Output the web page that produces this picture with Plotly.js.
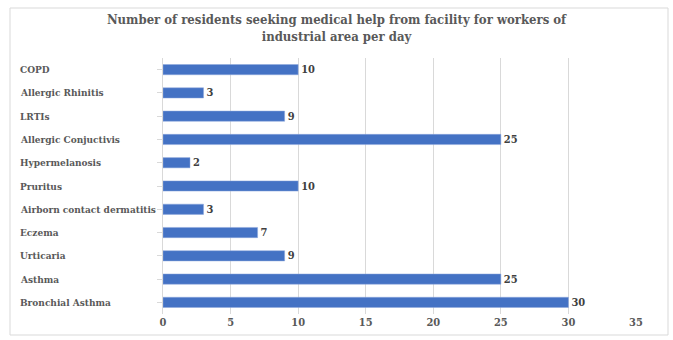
<!DOCTYPE html>
<html><head><meta charset="utf-8">
<script src="https://cdn.plot.ly/plotly-3.0.1.min.js"></script>
<style>html,body{margin:0;padding:0;background:#fff;}#chart{width:673px;height:340px;}</style>
</head><body><div id="chart"></div>
<script>
const categories = ["COPD","Allergic Rhinitis","LRTIs","Allergic Conjuctivis","Hypermelanosis","Pruritus","Airborn contact dermatitis","Eczema","Urticaria","Asthma","Bronchial Asthma"];
const values = [10,3,9,25,2,10,3,7,9,25,30];
const xTicks = [0,5,10,15,20,25,30,35];

const font = "DejaVu Serif Condensed, DejaVu Serif, serif";
const W = 673, H = 340, L = 163, R = 37, T = 58, B = 26;
const pw = W - L - R, ph = H - T - B;

const annotations = categories.map(c => ({
  text: "<b>" + c + "</b>", xref: "paper", yref: "y", x: (18 - L) / pw, y: c,
  xanchor: "left", yanchor: "middle", showarrow: false,
  font: {family: font, size: 10, color: "#595959"}
}));

Plotly.newPlot("chart", [{
  type: "bar", orientation: "h", x: values, y: categories,
  marker: {color: "#4472C4", line: {color: "#8fa9dc", width: 0.5}},
  text: values.map(v => "<b>" + v + "</b>"), textposition: "outside", constraintext: "none",
  textfont: {family: font, size: 11, color: "#404040"}, cliponaxis: false,
  hoverinfo: "none"
}], {
  width: W, height: H,
  margin: {l: L, r: R, t: T, b: B},
  paper_bgcolor: "#fff", plot_bgcolor: "#fff",
  bargap: 0.56,
  title: {text: "<b>Number of residents seeking medical help from facility for workers of<br>industrial area per day</b>",
    font: {family: font, size: 13, color: "#595959"}, x: 0.5, xanchor: "center", y: 0.93, yanchor: "top"},
  xaxis: {range: [0, 35], tickvals: xTicks, ticktext: xTicks.map(v => "<b>" + v + "</b>"),
    showgrid: true, gridcolor: "#d9d9d9", gridwidth: 1, zeroline: false, showline: false,
    tickfont: {family: font, size: 11, color: "#595959"}, ticks: "", fixedrange: true},
  yaxis: {autorange: "reversed", showticklabels: false, showline: true, linecolor: "#d9d9d9",
    ticks: "outside", ticklen: 5, tickcolor: "#d9d9d9", showgrid: false, zeroline: false, fixedrange: true},
  annotations: annotations,
  shapes: [{type: "rect", xref: "paper", yref: "paper",
    x0: (10 - L) / pw, x1: (668 - L) / pw, y0: (H - B - 335) / ph, y1: (H - B - 8) / ph,
    line: {color: "#d9d9d9", width: 1}, fillcolor: "rgba(0,0,0,0)", layer: "below"}],
  showlegend: false
}, {displayModeBar: false, staticPlot: true});
</script></body></html>
